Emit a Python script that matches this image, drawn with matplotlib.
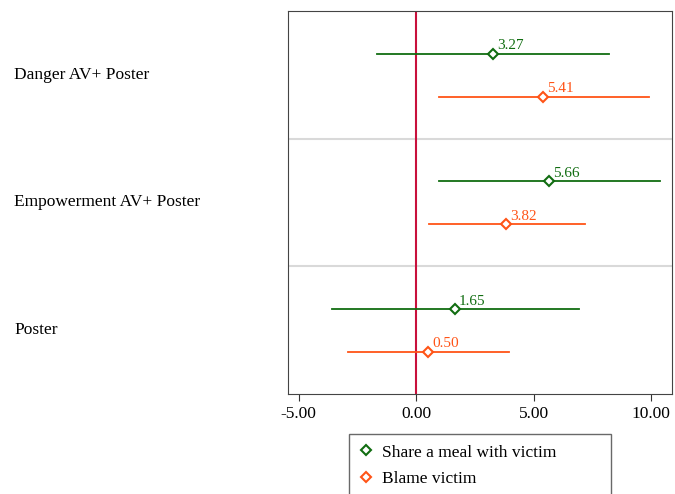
import matplotlib
matplotlib.use("Agg")
import matplotlib.pyplot as plt

plt.rcParams['font.family'] = ['Liberation Serif', 'DejaVu Serif']

# data, top to bottom
groups = ["Danger AV+ Poster", "Empowerment AV+ Poster", "Poster"]
series = ["Share a meal with victim", "Blame victim"]
share_est = [3.27, 5.66, 1.65]
share_lo = [-1.66, 0.98, -3.57]
share_hi = [8.21, 10.38, 6.94]
blame_est = [5.41, 3.82, 0.50]
blame_lo = [0.98, 0.55, -2.89]
blame_hi = [9.91, 7.19, 3.96]
xticks = [-5, 0, 5, 10]

green = "#116d11"
orange = "#ff5417"

fig = plt.figure(figsize=(6.75, 4.94), dpi=100)
ax = fig.add_axes([288 / 675, 1 - 394 / 494, 384 / 675, 383 / 494])

n = len(groups)
handles = []
for k, (est, lo, hi, col, off) in enumerate([
        (share_est, share_lo, share_hi, green, 0.165),
        (blame_est, blame_lo, blame_hi, orange, -0.17)]):
    for i in range(n):
        y = n - i - 0.5 + off
        ax.plot([lo[i], hi[i]], [y, y], color=col, lw=1.3, zorder=2)
        ax.annotate(f"{est[i]:.2f}", (est[i], y), xytext=(3, 1),
                    textcoords="offset points", ha="left", va="bottom",
                    color=col, fontsize=11, zorder=4)
    h, = ax.plot(est, [n - i - 0.5 + off for i in range(n)], ls="none",
                 marker="D", ms=5, mfc="white", mec=col, mew=1.5, zorder=3)
    handles.append(h)

ax.axvline(0, color="#c8103c", lw=1.5, zorder=1)
for yy in range(1, n):
    ax.axhline(yy, color="#d9d9d9", lw=1.5, zorder=0)

ax.set_xlim(-5.45, 10.89)
ax.set_ylim(0, n)
ax.set_xticks(xticks)
ax.set_xticklabels([f"{t:.2f}" for t in xticks], fontsize=12.5)
ax.tick_params(axis="x", direction="out", length=5, color="#333333", pad=4)
ax.set_yticks([])
for s in ax.spines.values():
    s.set_color("#444444")

for i, g in enumerate(groups):
    fig.text(14 / 675, ax.transData.transform((0, n - i - 0.5))[1] / 494,
             g, ha="left", va="center", fontsize=12.5)

leg = fig.legend(handles, series, loc="upper left", mode="expand",
                 bbox_to_anchor=(349 / 675, 0, 262 / 675, 1 - 434 / 494),
                 fontsize=12.5, frameon=True, fancybox=False,
                 edgecolor="#444444", handlelength=0.8, handletextpad=0.5,
                 borderpad=0.6, labelspacing=0.6, borderaxespad=0)
leg.get_frame().set_linewidth(1.0)

fig.savefig("out.png", dpi=100)
